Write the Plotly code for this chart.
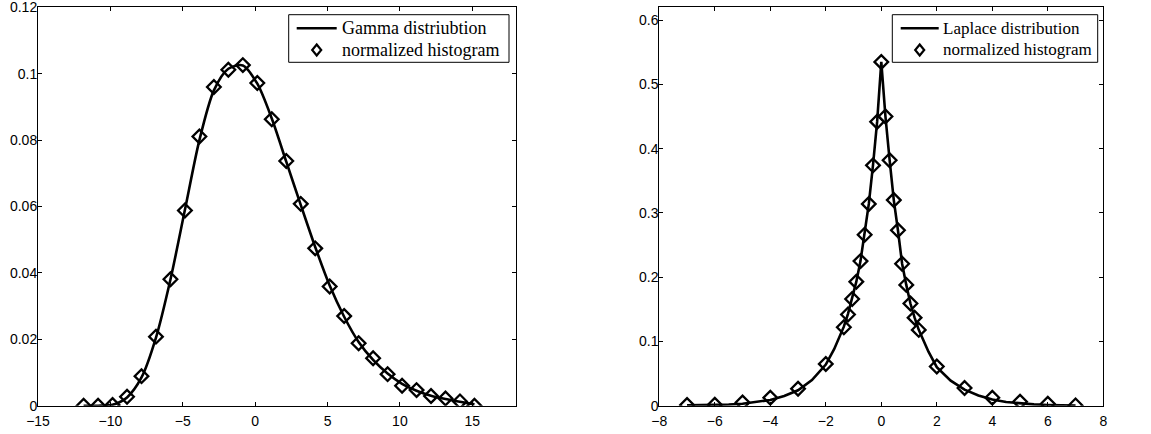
import plotly.graph_objects as go

# ---- Gamma panel data ----
gam_x = [-11.85, -10.85, -9.85, -8.85, -7.85, -6.85, -5.85, -4.85, -3.85, -2.85,
         -1.85, -0.85, 0.15, 1.15, 2.15, 3.15, 4.15, 5.15, 6.15, 7.15,
         8.15, 9.15, 10.15, 11.15, 12.15, 13.15, 14.15, 15.15]
gam_hist = [0.0000, 0.0000, 0.0002, 0.0027, 0.0089, 0.0208, 0.0381, 0.0588, 0.0811, 0.0960,
            0.1012, 0.1026, 0.0972, 0.0863, 0.0737, 0.0608, 0.0474, 0.0359, 0.0270, 0.0188,
            0.0143, 0.0095, 0.0060, 0.0047, 0.0029, 0.0022, 0.0013, 0.0000]
gam_line = [0.0000, 0.0000, 0.0003, 0.0025, 0.0085, 0.0205, 0.0380, 0.0590, 0.0800, 0.0950,
            0.1015, 0.1025, 0.0970, 0.0865, 0.0735, 0.0605, 0.0478, 0.0362, 0.0268, 0.0192,
            0.0138, 0.0097, 0.0066, 0.0045, 0.0030, 0.0020, 0.0012, 0.0004]
gam_xticks = [-15, -10, -5, 0, 5, 10, 15]
gam_yticks = [0, 0.02, 0.04, 0.06, 0.08, 0.1, 0.12]
gam_yticklabels = ["0", "0.02", "0.04", "0.06", "0.08", "0.1", "0.12"]
gam_names = ["Gamma distriubtion", "normalized histogram"]

# ---- Laplace panel data ----
lap_x = [-7, -6, -5, -4, -3, -2, -1.35, -1.2, -1.05, -0.9, -0.75, -0.6, -0.45, -0.3, -0.15,
         0, 0.15, 0.3, 0.45, 0.6, 0.75, 0.9, 1.05, 1.2, 1.35, 2, 3, 4, 5, 6, 7]
lap_hist = [0.0010, 0.0016, 0.0050, 0.0125, 0.0265, 0.0650, 0.1220, 0.1420, 0.1660, 0.1930,
            0.2250, 0.2660, 0.3140, 0.3740, 0.4420, 0.5350, 0.4500, 0.3820, 0.3200, 0.2730,
            0.2210, 0.1880, 0.1590, 0.1370, 0.1180, 0.0610, 0.0275, 0.0125, 0.0062, 0.0030,
            0.0005]
lap_line_x = [-7, -6, -5.5, -5, -4.5, -4, -3.5, -3, -2.5, -2, -1.7, -1.35, -1.2, -1.05, -0.9,
              -0.75, -0.6, -0.45, -0.3, -0.15, 0, 0.15, 0.3, 0.45, 0.6, 0.75, 0.9, 1.05,
              1.2, 1.35, 1.7, 2, 2.5, 3, 3.5, 4, 4.5, 5, 5.5, 6, 7]
lap_line = [0.0005, 0.0010, 0.0018, 0.0030, 0.0055, 0.0090, 0.0150, 0.0240, 0.0400, 0.0640,
            0.0880, 0.1230, 0.1430, 0.1660, 0.1930, 0.2250, 0.2660, 0.3140, 0.3740, 0.4420,
            0.5350, 0.4500, 0.3820, 0.3200, 0.2730, 0.2210, 0.1880, 0.1590, 0.1370, 0.1180,
            0.0840, 0.0600, 0.0390, 0.0250, 0.0160, 0.0095, 0.0058, 0.0035, 0.0020, 0.0012,
            0.0004]
lap_xticks = [-8, -6, -4, -2, 0, 2, 4, 6, 8]
lap_yticks = [0, 0.1, 0.2, 0.3, 0.4, 0.5, 0.6]
lap_yticklabels = ["0", "0.1", "0.2", "0.3", "0.4", "0.5", "0.6"]
lap_names = ["Laplace distribution", "normalized histogram"]

W, H = 1151, 434
BLACK = "#000000"
tick_font = dict(family="Liberation Sans, Arial, sans-serif", size=14, color=BLACK)
SERIF = "Liberation Serif, Times New Roman, serif"
mk = dict(symbol="diamond-open", size=10.5, color=BLACK, line=dict(color=BLACK, width=2.3))
LW = 2.6

fig = go.Figure()

fig.add_trace(go.Scatter(x=gam_x, y=gam_line, mode="lines", name=gam_names[0],
                         line=dict(color=BLACK, width=LW, shape="spline", smoothing=0.8),
                         xaxis="x", yaxis="y"))
fig.add_trace(go.Scatter(x=gam_x, y=gam_hist, mode="markers", name=gam_names[1],
                         marker=mk, xaxis="x", yaxis="y"))
fig.add_trace(go.Scatter(x=lap_line_x, y=lap_line, mode="lines", name=lap_names[0],
                         line=dict(color=BLACK, width=LW), xaxis="x2", yaxis="y2"))
fig.add_trace(go.Scatter(x=lap_x, y=lap_hist, mode="markers", name=lap_names[1],
                         marker=mk, xaxis="x2", yaxis="y2"))

ydom = [(H - 405.7) / H, (H - 7.3) / H]
common = dict(showgrid=False, zeroline=False, showline=True, linecolor=BLACK, linewidth=1,
              mirror="ticks", ticks="inside", ticklen=4, tickcolor=BLACK, tickwidth=1,
              tickfont=tick_font, automargin=False, ticklabeloverflow="allow")


def px(x):
    return x / W


def py(y):
    return (H - y) / H


shapes = []
annotations = []


def add_legend(box, names, font_size, sample_x0, sample_x1, text_x):
    x0, y0, x1, y1 = box
    shapes.append(dict(type="rect", xref="paper", yref="paper",
                       x0=px(x0), x1=px(x1), y0=py(y1), y1=py(y0),
                       line=dict(color=BLACK, width=1), fillcolor="white", layer="above"))
    row1 = y0 + 13.6
    row2 = y0 + 35.3
    shapes.append(dict(type="line", xref="paper", yref="paper",
                       x0=px(sample_x0), x1=px(sample_x1), y0=py(row1), y1=py(row1),
                       line=dict(color=BLACK, width=LW), layer="above"))
    cx = (sample_x0 + sample_x1) / 2
    hw, hh = 4.5, 5.5
    path = "M {a},{b} L {c},{d} L {e},{f} L {g},{h} Z".format(
        a=px(cx), b=py(row2 - hh), c=px(cx + hw), d=py(row2),
        e=px(cx), f=py(row2 + hh), g=px(cx - hw), h=py(row2))
    shapes.append(dict(type="path", xref="paper", yref="paper", path=path,
                       line=dict(color=BLACK, width=2.2), layer="above"))
    for name, ry in zip(names, [row1, row2]):
        annotations.append(dict(text=name, xref="paper", yref="paper", x=px(text_x),
                                y=py(ry), xanchor="left", yanchor="middle", showarrow=False,
                                font=dict(family=SERIF, size=font_size, color=BLACK),
                                borderpad=0))


add_legend((288.7, 14.7, 509, 62.3), gam_names, 18, 296.7, 336.7, 340.5)
add_legend((892.3, 14.7, 1097.7, 62.3), lap_names, 17, 900.7, 938.7, 941.5)

fig.update_layout(
    width=W, height=H,
    margin=dict(l=0, r=0, t=0, b=0),
    paper_bgcolor="white", plot_bgcolor="white",
    showlegend=False,
    xaxis=dict(domain=[38 / W, 515.7 / W], range=[-15, 18], tickmode="array",
               tickvals=gam_xticks, anchor="y", ticklabelstandoff=2, **common),
    yaxis=dict(domain=ydom, range=[0, 0.12001], tickmode="array", tickvals=gam_yticks,
               ticktext=gam_yticklabels, anchor="x", ticklabelstandoff=-3, **common),
    xaxis2=dict(domain=[659.3 / W, 1103.3 / W], range=[-8, 8], tickmode="array",
                tickvals=lap_xticks, anchor="y2", ticklabelstandoff=2, **common),
    yaxis2=dict(domain=ydom, range=[0, 0.62], tickmode="array", tickvals=lap_yticks,
                ticktext=lap_yticklabels, anchor="x2", ticklabelstandoff=-3, **common),
    shapes=shapes,
    annotations=annotations,
)

fig.write_html("out.html", config={"displayModeBar": False},
               post_script="document.body.style.margin='0';document.body.style.overflow='hidden';")
